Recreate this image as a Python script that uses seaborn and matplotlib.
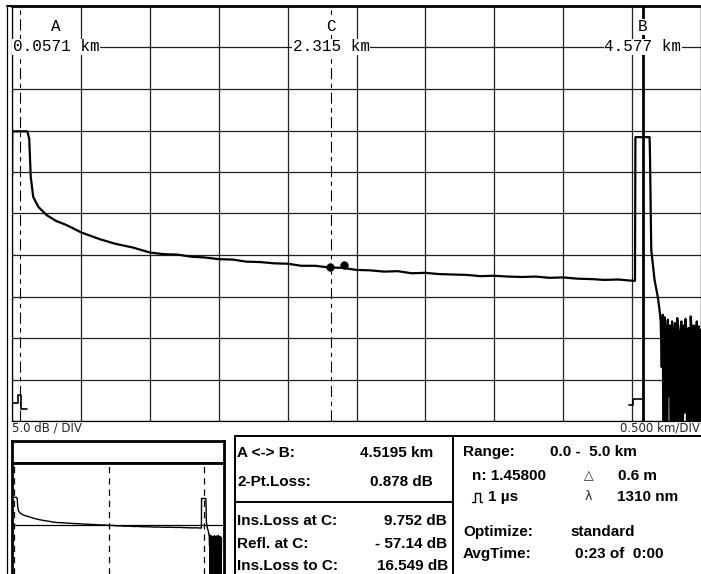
import numpy as np
import pandas as pd
import matplotlib
matplotlib.use('Agg')
import matplotlib.pyplot as plt
from matplotlib.lines import Line2D
import seaborn as sns

sns.set_style('white')
plt.rcParams['font.family'] = ['Liberation Sans', 'DejaVu Sans']

# OTDR trace: distance (km) / level (dB)
trace_km = [0.000, 0.002, 0.111, 0.125, 0.136, 0.154, 0.191, 0.252, 0.320, 0.397, 0.505, 0.638,
            0.750, 0.877, 1.0, 1.1, 1.2, 1.3, 1.4, 1.5, 1.6, 1.7, 1.8, 1.9, 2.0, 2.1, 2.2, 2.3,
            2.4, 2.5, 2.6, 2.7, 2.8, 2.9, 3.0, 3.1, 3.2, 3.3, 3.4, 3.5, 3.6, 3.7, 3.8, 3.9, 4.0,
            4.1, 4.2, 4.3, 4.4, 4.5, 4.521, 4.524, 4.627, 4.630, 4.639, 4.663, 4.687, 4.699]
trace_db = [29.4, 34.9, 34.9, 34.0, 29.4, 27.0, 25.8, 24.8, 24.1, 23.6, 22.7, 21.9,
            21.35, 20.9, 20.3, 20.1, 20.05, 19.8, 19.7, 19.5, 19.45, 19.2, 19.15, 19.0, 18.95, 18.7, 18.7, 18.5,
            18.45, 18.2, 18.15, 18.0, 18.05, 17.8, 17.85, 17.7, 17.65, 17.6, 17.45, 17.5, 17.4, 17.35, 17.4, 17.25, 17.3,
            17.15, 17.1, 17.0, 17.05, 16.9, 16.9, 34.2, 34.2, 31.8, 20.6, 17.0, 14.9, 13.4]

# noise after the fibre end
noise_km = [4.7075, 4.715, 4.7225, 4.730, 4.7375, 4.745, 4.7525, 4.760, 4.7675, 4.775,
            4.7825, 4.790, 4.7975, 4.805, 4.8125, 4.820, 4.8275, 4.835, 4.8425, 4.850,
            4.8575, 4.865, 4.8725, 4.880, 4.8875, 4.895, 4.9025, 4.910, 4.9175, 4.925,
            4.9325, 4.940, 4.9475, 4.955, 4.9625, 4.970, 4.9775, 4.985, 4.9925, 5.000]
noise_db = [12.0, 6.5, 12.8, -15, 12.5, 11.0, -15, 12.2, 3.0, 11.5,
            -15, 12.0, 10.8, -15, 11.8, -15, 12.4, 10.5, -15, 11.0,
            12.0, -15, 11.5, 1.0, 12.3, 10.5, -15, 11.2, -15, 12.6,
            11.0, -15, 11.5, -15, 10.8, 12.0, -15, 11.4, -15, 11.0]

cursor_names = ['A', 'C', 'B']
cursor_km = [0.0571, 2.315, 4.577]
cursor_labels = ['0.0571 km', '2.315 km', '4.577 km']

# event markers at C
dot_km = [2.306, 2.408]
dot_db = [18.5, 18.85]

# pulse icons at the foot of cursors A and B
a_icon_km = [0.007, 0.044, 0.044, 0.065, 0.065, 0.109]
a_icon_db = [2.17, 2.17, 3.13, 3.13, 1.45, 1.45]
b_icon_km = [4.474, 4.503, 4.503, 4.569]
b_icon_db = [1.93, 1.93, 2.65, 2.65]

km_per_div = 0.5
db_per_div = 5.0

trace = pd.DataFrame({'km': trace_km + noise_km, 'db': trace_db + noise_db})

W, H = 701, 574
fig = plt.figure(figsize=(W / 100, H / 100), dpi=100)


def box(x0, y0, x1, y1):
    return [x0 / W, 1 - y1 / H, (x1 - x0) / W, (y1 - y0) / H]


def fline(xs, ys, lw=1.2):
    fig.add_artist(Line2D([x / W for x in xs], [1 - y / H for y in ys], color='black', lw=lw))


# ---- main trace window ----
ax = fig.add_axes(box(12, 6, 701, 421))
sns.lineplot(data=trace, x='km', y='db', sort=False, estimator=None, color='black', lw=1.6, ax=ax)
ax.set_xlim(0, 10 * km_per_div)
ax.set_ylim(0, 10 * db_per_div)
ax.set_xticks(np.arange(0, 10 * km_per_div + 0.01, km_per_div))
ax.set_yticks(np.arange(0, 10 * db_per_div + 0.1, db_per_div))
ax.grid(True, color='#202020', lw=0.9)
ax.tick_params(length=0, labelbottom=False, labelleft=False)
ax.set_xlabel('')
ax.set_ylabel('')
for s in ['left', 'bottom', 'right']:
    ax.spines[s].set_linewidth(0.9)
    ax.spines[s].set_color('black')
ax.spines['top'].set_linewidth(2)
ax.spines['top'].set_color('black')

ax.axvline(cursor_km[0], color='black', lw=0.8, dashes=(10, 4, 4, 4))
ax.axvline(cursor_km[1], color='black', lw=0.8, dashes=(10, 4, 4, 4))
ax.axvline(cursor_km[2], color='black', lw=2)

sns.scatterplot(x=dot_km, y=dot_db, s=30, color='black', edgecolor='black', ax=ax, zorder=5)
sns.lineplot(x=a_icon_km, y=a_icon_db, sort=False, estimator=None, color='black', lw=1.2, ax=ax)
sns.lineplot(x=b_icon_km, y=b_icon_db, sort=False, estimator=None, color='black', lw=1.2, ax=ax)

mono = dict(family='Liberation Mono', size=11.5, color='black', zorder=6,
            bbox=dict(fc='white', ec='none', pad=0.3))
for name, km, lab in zip(cursor_names, cursor_km, cursor_labels):
    xc = max(km, 0.32)
    ax.text(xc, 47.5, name, ha='center', va='center', **mono)
    ax.text(xc, 45.1, lab, ha='center', va='center', **mono)

# outer frame
fline([7, 7], [6, 574], lw=0.9)
fline([7, 12], [6, 6], lw=1.5)

fig.text(12 / W, 1 - 428 / H, '5.0 dB / DIV', ha='left', va='center', size=8.5, family='DejaVu Sans')
fig.text(700 / W, 1 - 428 / H, '0.500 km/DIV', ha='right', va='center', size=8.5, family='DejaVu Sans')

# ---- overview window ----
band = fig.add_axes(box(12, 441, 224, 463))
band.set_xticks([])
band.set_yticks([])
for s in band.spines.values():
    s.set_linewidth(2)
    s.set_color('black')

mini = fig.add_axes(box(12, 463, 224, 574))
sns.lineplot(data=trace, x='km', y='db', sort=False, estimator=None, color='black', lw=1.0, ax=mini)
mini.set_xlim(0, 5.06)
mini.set_ylim(-10, 55)
mini.set_xticks([])
mini.set_yticks([])
mini.set_xlabel('')
mini.set_ylabel('')
for km in cursor_km:
    mini.axvline(km, color='black', lw=0.9, dashes=(5, 4))
mini.axhline(dot_db[0], color='black', lw=0.9)
for s in ['left', 'top', 'right']:
    mini.spines[s].set_linewidth(2)
    mini.spines[s].set_color('black')
mini.spines['bottom'].set_visible(False)

# ---- info panels ----
fline([235, 701], [436, 436], lw=1.4)
fline([235, 235], [436, 574], lw=1.4)
fline([453, 453], [436, 574], lw=1.4)
fline([235, 453], [502, 502], lw=1.4)

txt = dict(size=11, weight='bold', va='center', color='black')
left_rows = [('A <-> B:', '4.5195 km', 453, 433),
             ('2-Pt.Loss:', '0.878 dB', 482, 433),
             ('Ins.Loss at C:', '9.752 dB', 521, 447),
             ('Refl. at C:', '- 57.14 dB', 544, 447),
             ('Ins.Loss to C:', '16.549 dB', 566, 448)]
for lab, val, y, xr in left_rows:
    fig.text(237 / W, 1 - y / H, lab, ha='left', **txt)
    fig.text(xr / W, 1 - y / H, val, ha='right', **txt)

fig.text(463 / W, 1 - 452 / H, 'Range:', ha='left', **txt)
fig.text(550 / W, 1 - 452 / H, '0.0 -  5.0 km', ha='left', **txt)
fig.text(472 / W, 1 - 476 / H, 'n: 1.45800', ha='left', **txt)
fig.text(589 / W, 1 - 476 / H, '△', ha='center', size=9, va='center', family='DejaVu Sans')
fig.text(618 / W, 1 - 476 / H, '0.6 m', ha='left', **txt)
# pulse-width symbol (no installed font has it) drawn as a small shape
fline([472, 474.5, 474.5, 479.5, 479.5, 482], [502, 502, 493, 493, 502, 502], lw=1.0)
fig.text(488 / W, 1 - 497 / H, '1 µs', ha='left', **txt)
fig.text(588 / W, 1 - 497 / H, 'λ', ha='center', size=9, va='center', family='DejaVu Sans')
fig.text(617 / W, 1 - 497 / H, '1310 nm', ha='left', **txt)
fig.text(463 / W, 1 - 532 / H, 'Optimize:', ha='left', **txt)
fig.text(570 / W, 1 - 532 / H, 'standard', ha='left', **txt)
fig.text(463 / W, 1 - 554 / H, 'AvgTime:', ha='left', **txt)
fig.text(575 / W, 1 - 554 / H, '0:23 of  0:00', ha='left', **txt)

fig.savefig('out.png', dpi=100, facecolor='white')
